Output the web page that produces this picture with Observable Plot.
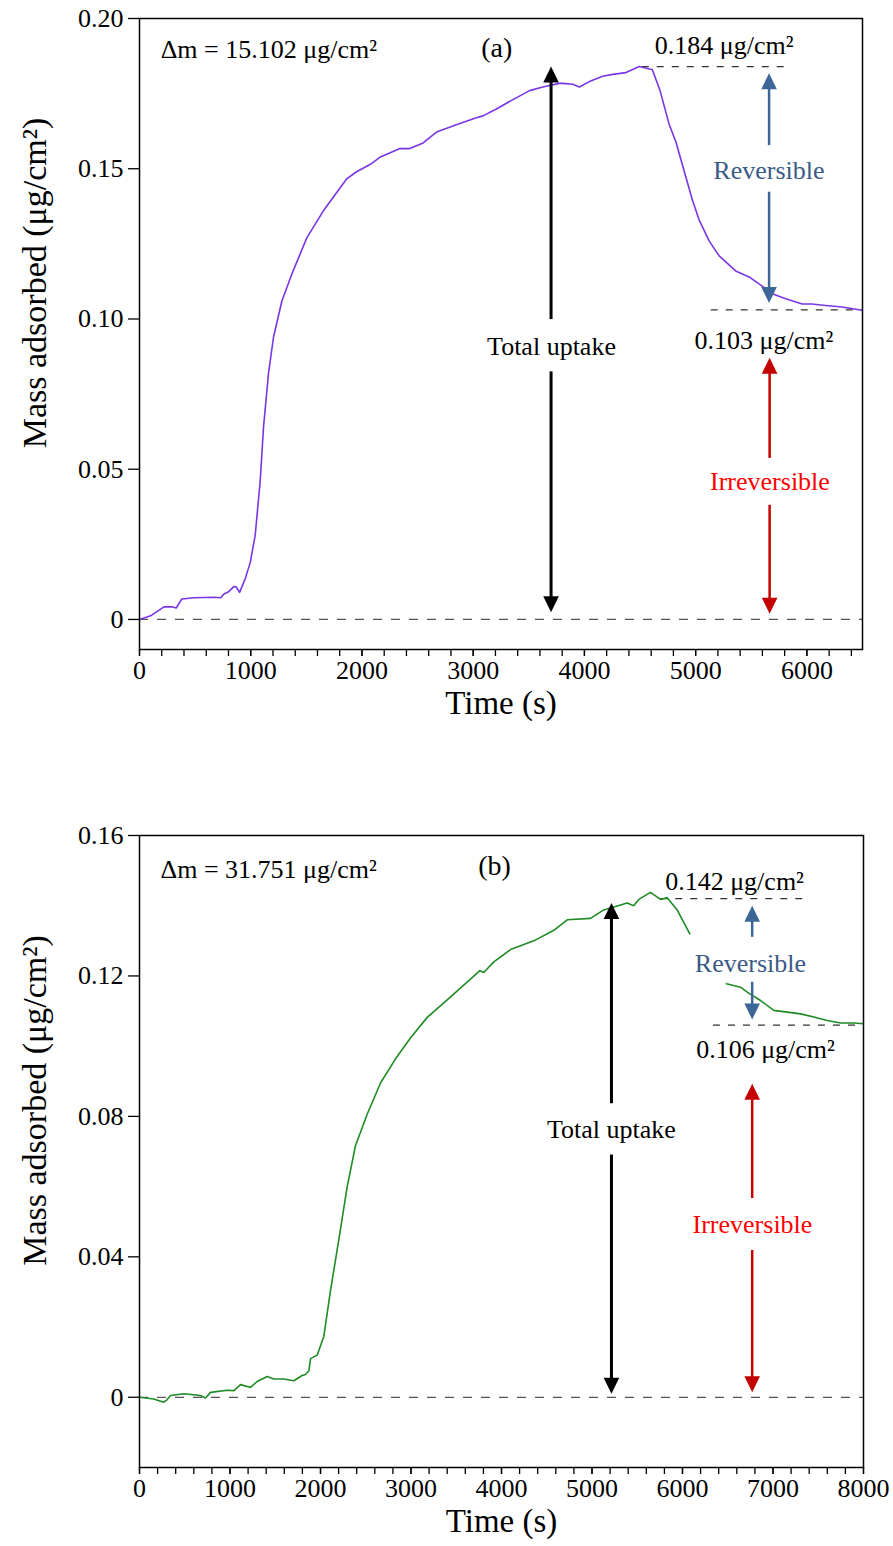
<!DOCTYPE html>
<html><head><meta charset="utf-8">
<script src="https://cdn.jsdelivr.net/npm/d3@7"></script>
<script src="https://cdn.jsdelivr.net/npm/@observablehq/plot@0.6"></script>
<style>
body{margin:0;background:#fff;}
#chart svg{display:block;}
</style></head><body><div id="chart"></div>
<script>
// ---------- Panel (a) data ----------
const timeA = [0,100,220,290,330,380,490,670,730,760,800,850,870,900,950,996,1040,1085,1115,1160,1205,1280,1370,1504,1653,1862,1952,2072,2161,2341,2430,2550,2670,2849,3028,3088,3208,3357,3507,3626,3776,3805,3895,3955,4045,4164,4254,4374,4493,4583,4610,4680,4760,4822,4972,5031,5121,5211,5360,5480,5570,5689,5809,5958,6045,6168,6317,6482,6500];
const massA = [0,0.0012,0.0042,0.0042,0.0038,0.0068,0.0072,0.0074,0.0072,0.0085,0.0092,0.011,0.0108,0.009,0.0135,0.019,0.028,0.046,0.064,0.082,0.094,0.106,0.115,0.127,0.136,0.1466,0.149,0.1514,0.1538,0.1567,0.1567,0.1586,0.1622,0.1646,0.167,0.1676,0.1699,0.173,0.176,0.1772,0.1784,0.1784,0.1781,0.1772,0.179,0.1808,0.1814,0.182,0.184,0.1832,0.183,0.176,0.165,0.159,0.1394,0.133,0.126,0.121,0.116,0.114,0.1117,0.1084,0.1067,0.105,0.105,0.1045,0.104,0.103,0.1028];
const yTicksA = [0, 0.05, 0.10, 0.15, 0.20];
const xMajorA = [0,1000,2000,3000,4000,5000,6000];
const xMinorA = d3.range(0, 6401, 200);

// ---------- Panel (b) data ----------
const timeB = [0,158,268,300,343,490,674,729,785,969,1043,1116,1227,1300,1411,1484,1594,1705,1797,1834,1871,1890,1963,2037,2110,2203,2295,2387,2516,2663,2829,2994,3179,3400,3657,3760,3804,3915,4099,4357,4578,4726,4983,5130,5389,5460,5517,5646,5757,5831,5941,6081,6280,6486,6641,6715,6862,7009,7157,7304,7451,7599,7746,7893,8000];
const massB = [0,-0.0005,-0.0014,-0.0008,0.0005,0.001,0.0005,-0.0002,0.0014,0.002,0.0019,0.0036,0.0028,0.0045,0.0059,0.0052,0.0052,0.0047,0.0062,0.0065,0.0075,0.011,0.012,0.0174,0.0303,0.045,0.06,0.0717,0.0806,0.0895,0.0964,0.1023,0.1082,0.1132,0.1191,0.1215,0.121,0.124,0.1275,0.13,0.133,0.136,0.1364,0.1388,0.1408,0.14,0.1418,0.1438,0.1418,0.1423,0.1388,0.132,NaN,0.1178,0.1168,0.1154,0.113,0.1102,0.1097,0.1092,0.1083,0.1073,0.1066,0.1066,0.1064];
const yTicksB = [0, 0.04, 0.08, 0.12, 0.16];
const xMajorB = [0,1000,2000,3000,4000,5000,6000,7000,8000];
const xMinorB = d3.range(0, 8001, 200);

// ---------- Annotations (data coordinates) ----------
const levelsA = [{v:0.184, x1:4520, x2:5865}, {v:0.103, x1:5140, x2:6500}];
const levelsB = [{v:0.142, x1:5760, x2:7410}, {v:0.106, x1:6342, x2:8000}];

const BLUE = "#3d6698", BLUE_T = "#3a5a86", RED = "#c40000", RED_T = "#ff0000";

const labelsA = [
  {text:"0.184 μg/cm²", x:5256, y:0.1908, col:"black"},
  {text:"Reversible", x:5659, y:0.1494, col:BLUE_T},
  {text:"0.103 μg/cm²", x:5614, y:0.0928, col:"black"},
  {text:"Total uptake", x:3704, y:0.0908, col:"black"},
  {text:"Irreversible", x:5668, y:0.0459, col:RED_T}
];
const tagA = [{text:"(a)", x:3211, y:0.1903}];
const noteA = [{text:"Δm = 15.102 μg/cm²", x:190, y:0.1897}];
const labelsB = [
  {text:"0.142 μg/cm²", x:6575, y:0.1469, col:"black"},
  {text:"Reversible", x:6751, y:0.1236, col:BLUE_T},
  {text:"0.106 μg/cm²", x:6917, y:0.099, col:"black"},
  {text:"Total uptake", x:5215, y:0.0762, col:"black"},
  {text:"Irreversible", x:6773, y:0.0492, col:RED_T}
];
const tagB = [{text:"(b)", x:3923, y:0.1512}];
const noteB = [{text:"Δm = 31.751 μg/cm²", x:232, y:0.1502}];

const arrowsA = [
  {x:3700, from:0.0998, to:0.184, col:"black", w:3},
  {x:3700, from:0.0824, to:0.0024, col:"black", w:3},
  {x:5660, from:0.1577, to:0.1818, col:BLUE, w:2.5},
  {x:5660, from:0.1422, to:0.1053, col:BLUE, w:2.5},
  {x:5665, from:0.0536, to:0.0871, col:RED, w:2.5},
  {x:5665, from:0.038, to:0.0019, col:RED, w:2.5}
];
const arrowsB = [
  {x:5215, from:0.0836, to:0.1408, col:"black", w:3},
  {x:5215, from:0.069, to:0.001, col:"black", w:3},
  {x:6770, from:0.131, to:0.140, col:BLUE, w:2.5},
  {x:6770, from:0.1182, to:0.1076, col:BLUE, w:2.5},
  {x:6770, from:0.0566, to:0.0893, col:RED, w:2.5},
  {x:6770, from:0.0418, to:0.0014, col:RED, w:2.5}
];

const FONT = "'Liberation Serif','Times New Roman',serif";
const head = {draw(ctx){ ctx.moveTo(0,0); ctx.lineTo(7.8,16); ctx.lineTo(-7.8,16); ctx.closePath(); }};

function panel(o) {
  const data = o.time.map((t,i) => ({t, m: o.mass[i]}));
  const up = o.arrows.filter(a => a.to > a.from);
  const down = o.arrows.filter(a => a.to < a.from);
  return Plot.plot({
    width: 893, height: o.height,
    marginTop: o.marginTop, marginBottom: o.marginBottom, marginLeft: 139, marginRight: o.marginRight,
    x: {domain: [0, o.xMax]},
    y: {domain: o.yDomain},
    color: {type: "identity"},
    style: {fontFamily: FONT, background: "white", color: "black", overflow: "visible"},
    marks: [
      Plot.ruleY([0], {stroke:"#555", strokeWidth:1.3, strokeDasharray:"9,9"}),
      Plot.ruleY(o.levels, {y:"v", x1:"x1", x2:"x2", stroke:"#333", strokeWidth:1.2, strokeDasharray:"7,8"}),
      Plot.line(data, {x:"t", y:"m", stroke:o.color, strokeWidth:1.6}),
      Plot.ruleX(up, {x:"x", y1:"to", y2:"from", stroke:"col", strokeWidth:"w", insetTop:10}),
      Plot.ruleX(down, {x:"x", y1:"from", y2:"to", stroke:"col", strokeWidth:"w", insetBottom:10}),
      Plot.dot(up, {x:"x", y:"to", symbol: head, fill:"col", stroke:null, r:5}),
      Plot.dot(down, {x:"x", y:"to", symbol: head, fill:"col", stroke:null, r:5, rotate:180}),
      Plot.text(o.labels, {x:"x", y:"y", text:"text", fill:"col", fontSize:26}),
      Plot.text(o.tag, {x:"x", y:"y", text:"text", fill:"black", fontSize:28}),
      Plot.text(o.note, {x:"x", y:"y", text:"text", fill:"black", fontSize:26, textAnchor:"start"}),
      Plot.axisY(o.yTicks, {tickSize:11, tickPadding:5, tickFormat: d => d === 0 ? "0" : d.toFixed(2), fontSize:26, label:null, strokeWidth:1.3}),
      Plot.axisX(o.xMinor, {tickSize:7, tickFormat: () => "", label:null, strokeWidth:1.3}),
      Plot.axisX(o.xMajor, {tickSize:7, tickPadding:4, tickFormat: d => String(d), fontSize:26, label:null, strokeWidth:1.3}),
      Plot.frame({stroke:"black", strokeWidth:1.5}),
      Plot.text(["Time (s)"], {text: d => d, frameAnchor:"bottom", dy:64, fontSize:33}),
      Plot.text(["Mass adsorbed (μg/cm²)"], {text: d => d, frameAnchor:"left", textAnchor:"middle", dx:-104, dy:-51, rotate:-90, fontSize:34})
    ]
  });
}

const chart = document.getElementById("chart");
chart.append(panel({
  time: timeA, mass: massA, color: "#7a36e4", xMax: 6500, yDomain: [-0.01, 0.20],
  yTicks: yTicksA, xMajor: xMajorA, xMinor: xMinorA,
  height: 770, marginTop: 18, marginBottom: 121, marginRight: 31,
  levels: levelsA, labels: labelsA, tag: tagA, note: noteA, arrows: arrowsA
}));
chart.append(panel({
  time: timeB, mass: massB, color: "#1f8b24", xMax: 8000, yDomain: [-0.02, 0.16],
  yTicks: yTicksB, xMajor: xMajorB, xMinor: xMinorB,
  height: 776, marginTop: 65, marginBottom: 79, marginRight: 30,
  levels: levelsB, labels: labelsB, tag: tagB, note: noteB, arrows: arrowsB
}));
</script></body></html>
